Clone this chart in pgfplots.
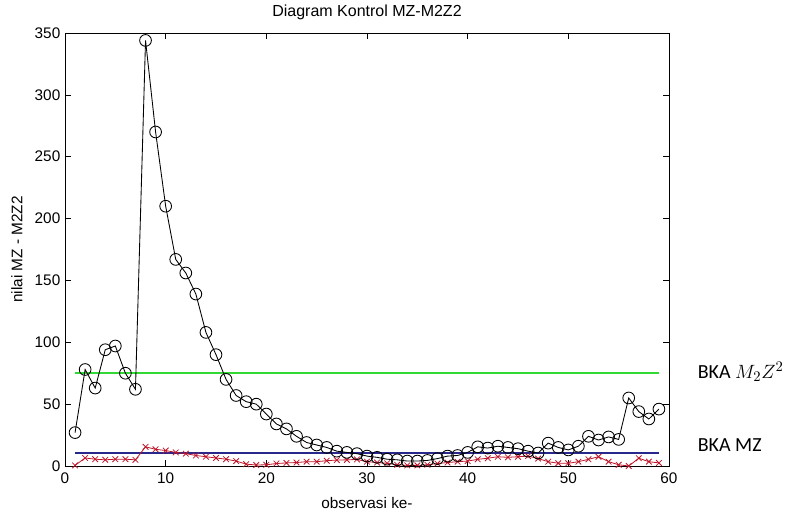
\documentclass[border=0pt]{standalone}
\usepackage{pgfplots}
\pgfplotsset{compat=1.18}
\usepackage{fontspec}
\setmainfont{Liberation Sans}
\newfontfamily\calib{Carlito}

\definecolor{mzred}{RGB}{190,20,40}
\definecolor{limeline}{rgb}{0.2,0.85,0.2}
\definecolor{bkablue}{RGB}{40,40,140}

\pgfplotstableread{
x y
1 27
2 78
3 63
4 94
5 97
6 75
7 62
8 344
9 270
10 210
11 167
12 156
13 139
14 108
15 90
16 70
17 57
18 52
19 50
20 42
21 34
22 30
23 24
24 19
25 17
26 15
27 12
28 11
29 10
30 8
31 7
32 5.5
33 5
34 4
35 4
36 4.5
37 6
38 8
39 8.5
40 11
41 15.5
42 14.5
43 16
44 15
45 14
46 12
47 10.5
48 18.5
49 15
50 13
51 16
52 24
53 21
54 23.5
55 21.5
56 55
57 44
58 38
59 46
}\mzz

\pgfplotstableread{
x y
1 0.5
2 6.5
3 5.5
4 5
5 5.5
6 5.5
7 5
8 15.5
9 13.5
10 12.5
11 11
12 10
13 8.5
14 7.5
15 6.5
16 5.5
17 4
18 1.5
19 0.8
20 1
21 2
22 2.5
23 2.8
24 3.5
25 3.5
26 4.3
27 4.8
28 5
29 5.3
30 3.5
31 2.8
32 2.2
33 1
34 0.5
35 0.5
36 1
37 2
38 2.8
39 3.5
40 4
41 5.4
42 6.3
43 7.5
44 7
45 7.5
46 8
47 6
48 3.5
49 2.2
50 2.2
51 3.5
52 5.4
53 7.5
54 3.5
55 1
56 0
57 6.3
58 3.5
59 2.5
}\mz

\begin{document}
\begin{tikzpicture}
\begin{axis}[
  name=ax, scale only axis, width=453pt, height=324.75pt,
  xmin=0, xmax=60, ymin=0, ymax=350,
  xtick={0,10,...,60}, ytick={0,50,...,350},
  tick align=inside, major tick length=4.5pt,
  axis line style={line width=0.6pt},
  every tick/.style={black, line width=0.5pt},
  /pgf/number format/assume math mode=true,
  tick label style={font=\fontsize{11.5}{13}\selectfont},
  xticklabel style={yshift=-1.5pt},
  xlabel={observasi ke-},
  xlabel style={at={(axis description cs:0.5,-0.0855)}, anchor=center, font=\fontsize{11.5}{13}\selectfont},
  ylabel={nilai MZ - M2Z2},
  ylabel style={at={(axis description cs:-0.0795,0.5)}, anchor=center, font=\fontsize{11.5}{13}\selectfont},
  clip=false]
\addplot[draw=bkablue, line width=0.9pt] coordinates {(1,10.5) (59,10.5)};
\addplot[draw=limeline, line width=1.1pt] coordinates {(1,75) (59,75)};
\addplot[color=mzred, line width=0.6pt, mark=x, mark size=3pt] table {\mz};
\addplot[color=black, line width=0.65pt, mark=o, mark size=4.4pt] table {\mzz};
\node[font=\fontsize{12}{14}\selectfont] at (axis description cs:0.5,1.0485) {Diagram Kontrol MZ-M2Z2};
\node[anchor=base west, font=\calib\fontsize{15}{18}\selectfont] at (axis cs:62.4,70.9) {BKA $M_2Z^2$};
\node[anchor=base west, font=\calib\fontsize{15}{18}\selectfont] at (axis cs:62.4,11.6) {BKA MZ};
\end{axis}
\pgfresetboundingbox
\path (ax.south west) ++(-48.75pt,-34.5pt) rectangle ++(597pt,384pt);
\end{tikzpicture}
\end{document}
